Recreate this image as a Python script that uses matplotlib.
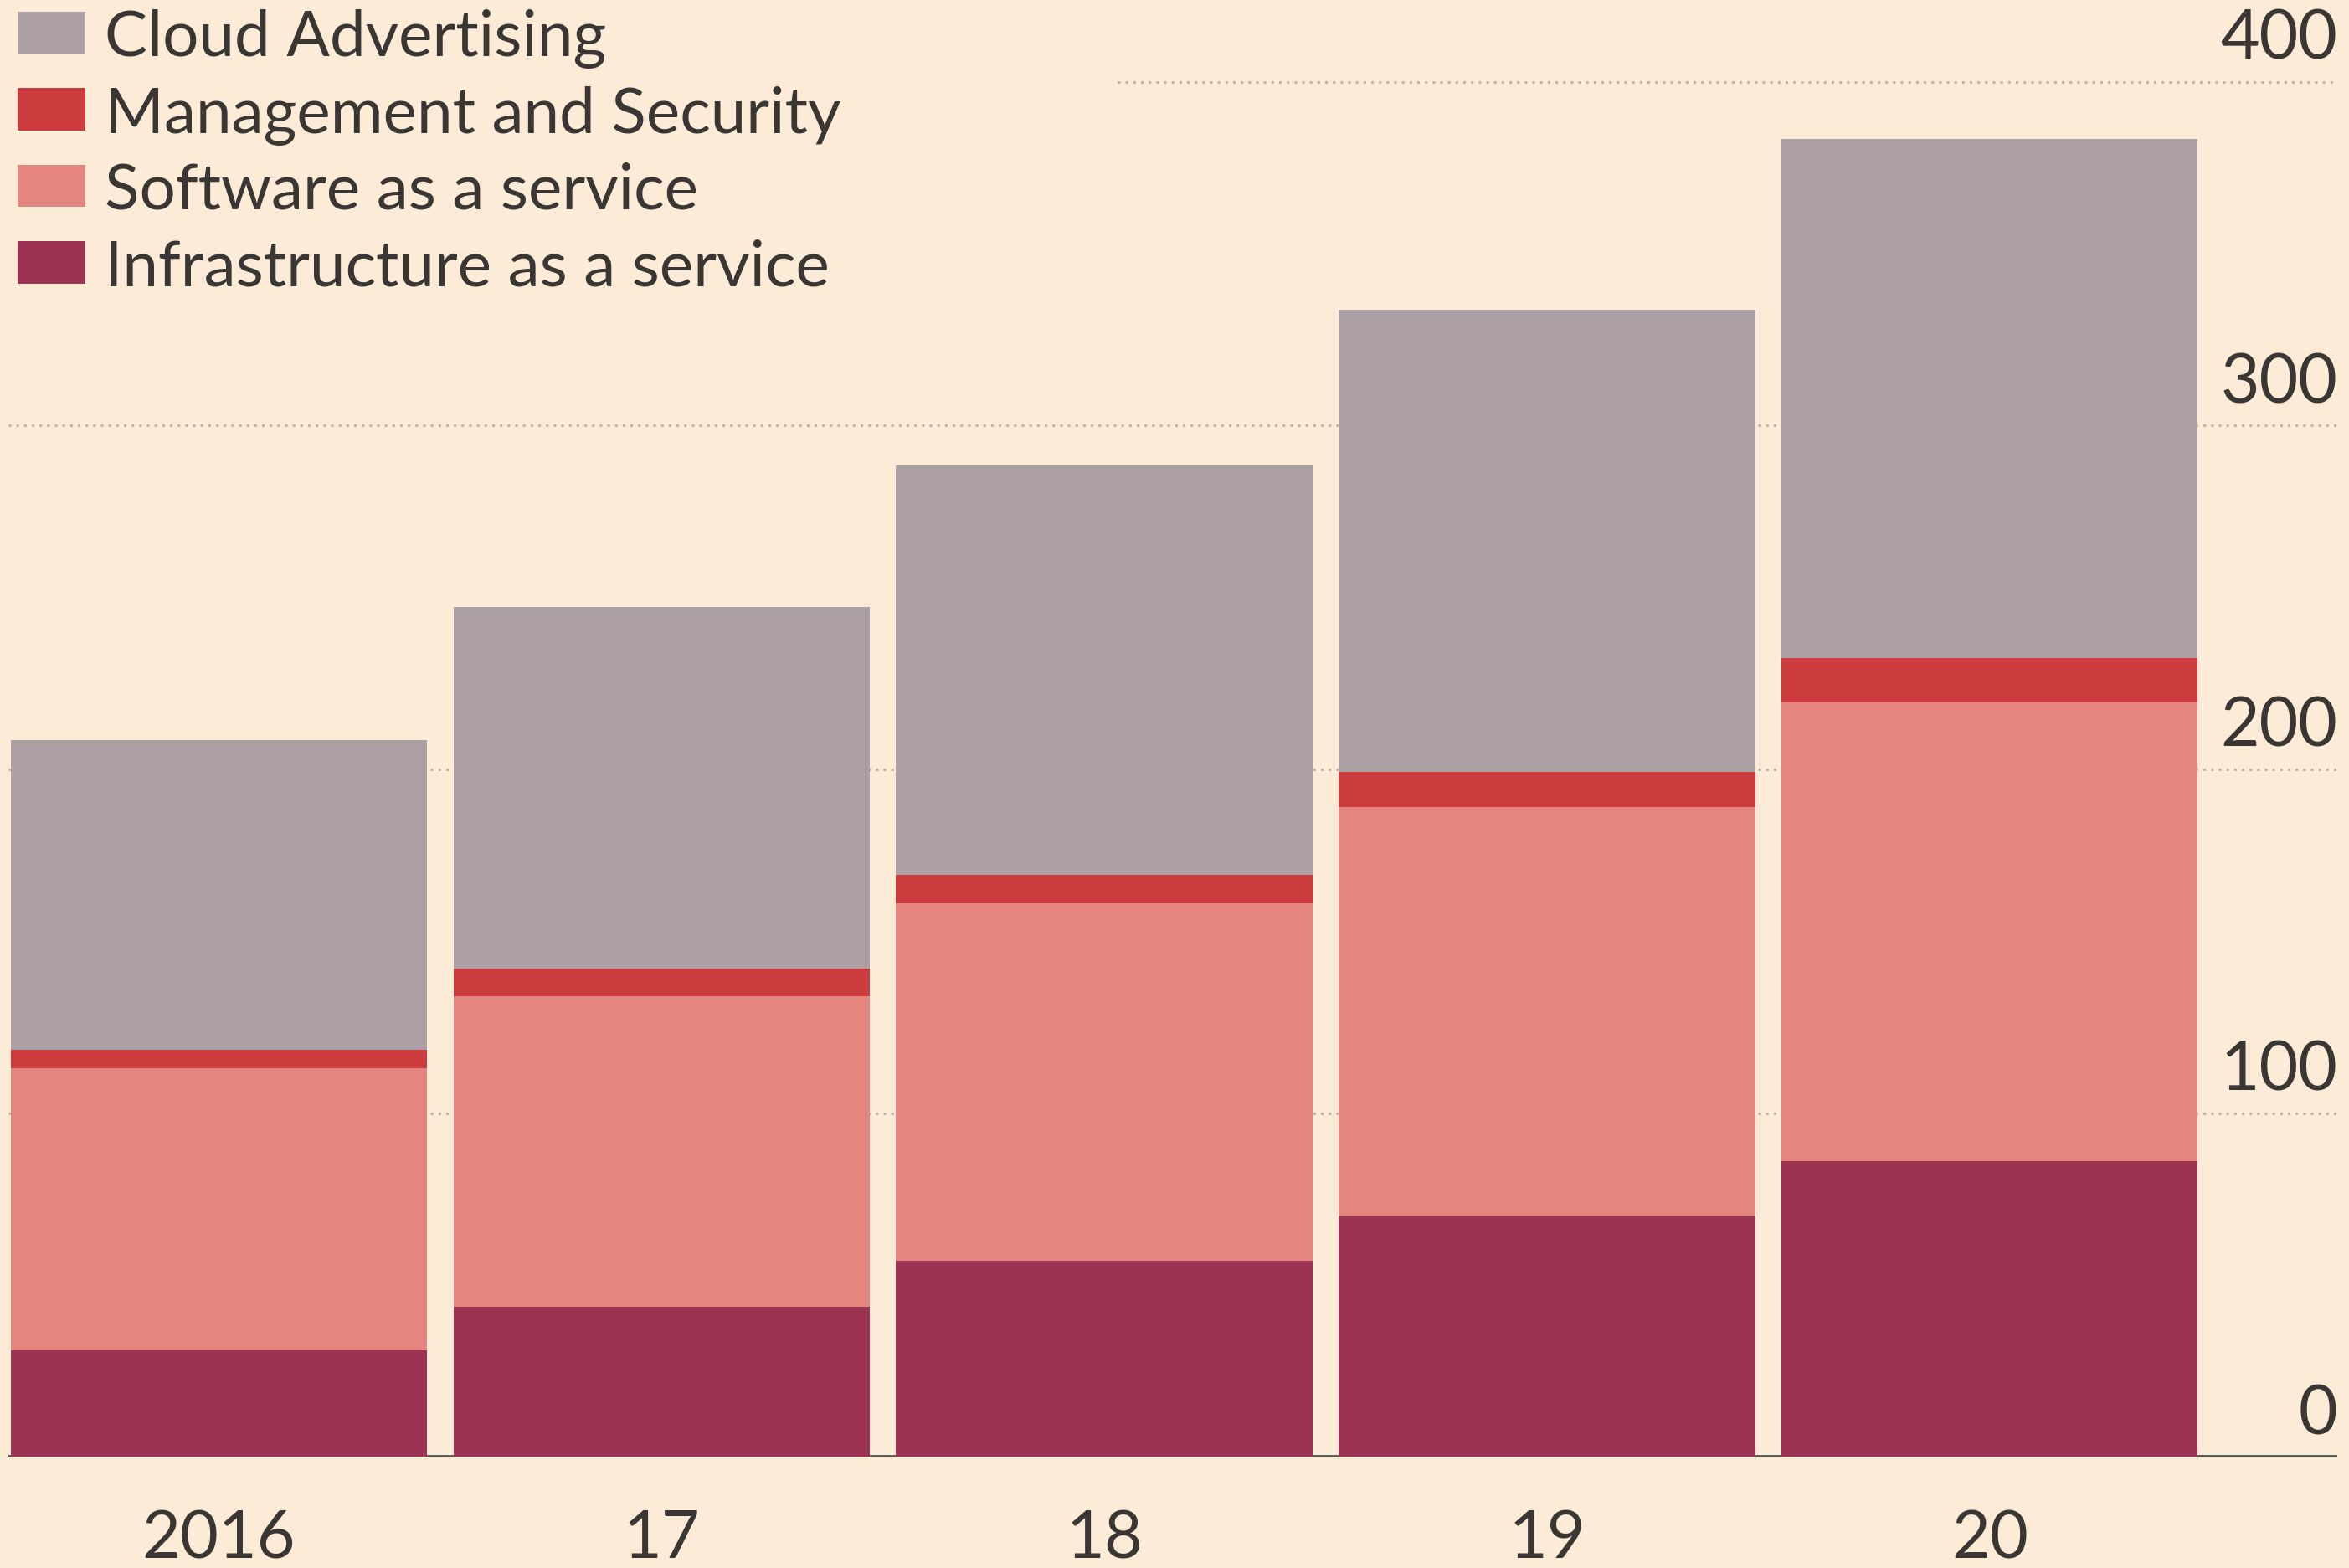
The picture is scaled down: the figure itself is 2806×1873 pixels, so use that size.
import matplotlib
matplotlib.use('Agg')
import matplotlib.pyplot as plt
from matplotlib.patches import Rectangle

# ---- data ----
years = ['2016', '17', '18', '19', '20']
infrastructure = [31, 43.5, 57, 70, 86]
software = [82, 90.5, 104, 119, 133.5]
management = [5.5, 8, 8.3, 10.2, 13]
advertising = [90, 105.3, 119.1, 134.5, 150.9]
yticks = [0, 100, 200, 300, 400]
legend_labels = ['Cloud Advertising', 'Management and Security',
                 'Software as a service', 'Infrastructure as a service']

BG = '#FCEBD6'
C_INFRA = '#9D3352'
C_SAAS = '#E4867F'
C_MGMT = '#CC3B3D'
C_CLOUD = '#ACA0A5'
TXT = '#3A3634'

plt.rcParams['font.family'] = ['Lato', 'DejaVu Sans']

W, H = 2806, 1873
fig = plt.figure(figsize=(W / 100, H / 100), dpi=100, facecolor=BG)
ax = fig.add_axes([10 / W, (H - 1740) / H, (2792 - 10) / W, (1740 - 98) / H])
ax.set_facecolor(BG)

xs = list(range(len(years)))
width = 0.94
bottom = [0.0] * len(years)
for vals, col in [(infrastructure, C_INFRA), (software, C_SAAS),
                  (management, C_MGMT), (advertising, C_CLOUD)]:
    ax.bar(xs, vals, width=width, bottom=bottom, color=col, zorder=2, linewidth=0)
    bottom = [b + v for b, v in zip(bottom, vals)]

ax.set_xlim(-0.475, 4.785)
ax.set_ylim(0, 400)

# gridlines (dotted), top one starts after the legend
for t in yticks[1:]:
    xmin = 2.03 if t == 400 else -0.475
    ax.hlines(t, xmin, 4.785, colors='#BFB5AA', linestyles=(0, (1, 2)),
              linewidth=2.2, zorder=0, clip_on=False)
ax.axhline(0, color='#4F5B57', linewidth=3.5, zorder=1)

# y labels on the right, above gridlines
for t in yticks:
    ax.annotate(str(t), xy=(1.0, t), xycoords=('axes fraction', 'data'),
                xytext=(0, 27), textcoords='offset pixels',
                ha='right', va='baseline', fontsize=58, color=TXT,
                annotation_clip=False)

# x labels
for i, lab in enumerate(years):
    ax.annotate(lab, xy=(i, 0), xycoords='data', xytext=(0, -121),
                textcoords='offset pixels', ha='center', va='baseline',
                fontsize=57, color=TXT, annotation_clip=False)

ax.set_xticks([])
ax.set_yticks([])
for s in ax.spines.values():
    s.set_visible(False)

# legend (drawn as swatches + text in figure pixels)
legend_colors = [C_CLOUD, C_MGMT, C_SAAS, C_INFRA]
for i, (lab, col) in enumerate(zip(legend_labels, legend_colors)):
    yc = 39 + 91.5 * i  # row centre, pixels from top
    fig.add_artist(Rectangle((21 / W, 1 - (yc + 25) / H), 81 / W, 50 / H,
                             transform=fig.transFigure, facecolor=col,
                             edgecolor='none'))
    fig.text(125 / W, 1 - (yc + 28) / H, lab, ha='left', va='baseline',
             fontsize=55, color=TXT)

fig.savefig('out.png', dpi=100, facecolor=BG)
